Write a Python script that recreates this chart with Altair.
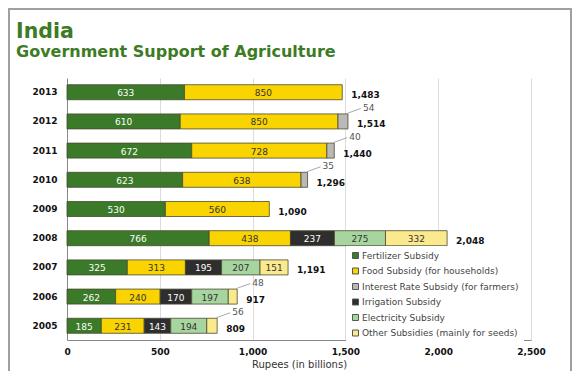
import altair as alt
import pandas as pd

title_text = "India"
subtitle_text = "Government Support of Agriculture"
years = ["2013", "2012", "2011", "2010", "2009", "2008", "2007", "2006", "2005"]
categories = [
    "Fertilizer Subsidy",
    "Food Subsidy (for households)",
    "Interest Rate Subsidy (for farmers)",
    "Irrigation Subsidy",
    "Electricity Subsidy",
    "Other Subsidies (mainly for seeds)",
]
fertilizer = [633, 610, 672, 623, 530, 766, 325, 262, 185]
food = [850, 850, 728, 638, 560, 438, 313, 240, 231]
interest = [0, 54, 40, 35, 0, 0, 0, 0, 0]
irrigation = [0, 0, 0, 0, 0, 237, 195, 170, 143]
electricity = [0, 0, 0, 0, 0, 275, 207, 197, 194]
other = [0, 0, 0, 0, 0, 332, 151, 48, 56]
totals = [1483, 1514, 1440, 1296, 1090, 2048, 1191, 917, 809]

colors = ["#3b7a29", "#fad400", "#b9b9b9", "#2e2e2e", "#a6d59f", "#fbe98e"]
text_colors = ["white", "#333333", "#333333", "white", "#333333", "#333333"]
x_ticks = [0, 500, 1000, 1500, 2000, 2500]

series = [fertilizer, food, interest, irrigation, electricity, other]
rows = []
for ci, (cat, vals) in enumerate(zip(categories, series)):
    for yi, (yr, v) in enumerate(zip(years, vals)):
        if v > 0:
            rows.append({"year": yr, "cat": cat, "order": ci, "value": v,
                         "tcolor": text_colors[ci]})
df = pd.DataFrame(rows)
tot_df = pd.DataFrame({"year": years, "total": totals})
one = pd.DataFrame({"t": [title_text], "s": [subtitle_text]})

FONT = "DejaVu Sans"
GREEN = "#3d7b25"
yenc = alt.Y("year:N", sort=years, title=None,
             scale=alt.Scale(paddingInner=0.486, paddingOuter=0.23),
             axis=alt.Axis(ticks=False, labelPadding=10, labelFontWeight="bold",
                           labelFontSize=9, labelColor="#111", domainColor="#888",
                           labelFont=FONT))

base = alt.Chart(df).transform_window(
    cum="sum(value)", groupby=["year"], sort=[alt.SortField("order")], frame=[None, 0]
).transform_calculate(
    start="datum.cum - datum.value", mid="datum.cum - datum.value/2"
)

bars = base.mark_bar(stroke="#4a4a30", strokeWidth=0.8).encode(
    x=alt.X("start:Q", scale=alt.Scale(domain=[0, 2500], nice=False),
            title="Rupees (in billions)",
            axis=alt.Axis(values=x_ticks, format=",.0f", ticks=False, labelPadding=7,
                          labelFlush=False, labelOverlap=False,
                          labelFontWeight="bold", labelFontSize=9, labelColor="#111",
                          labelFont=FONT, gridColor="#dcdcdc", domainColor="#888",
                          titleFont=FONT, titleFontSize=10, titleFontWeight="normal",
                          titleColor="#333", titlePadding=3)),
    x2="cum:Q",
    y=yenc,
    color=alt.Color("cat:N", sort=categories,
                    scale=alt.Scale(domain=categories, range=colors),
                    legend=alt.Legend(title=None, orient="none", legendX=279, legendY=168,
                                      fillColor="white", padding=5, symbolType="square",
                                      symbolSize=36, symbolStrokeColor="#555",
                                      symbolStrokeWidth=1, labelFont=FONT,
                                      labelFontSize=9, labelColor="#444",
                                      rowPadding=4.5, labelOffset=2)),
)

inside = base.transform_filter("datum.value >= 100").mark_text(
    font=FONT, fontSize=9, baseline="middle", dy=1
).encode(
    x="mid:Q", y=alt.Y("year:N", sort=years),
    text=alt.Text("value:Q"),
    color=alt.Color("tcolor:N", scale=None),
)

small_txt = base.transform_filter("datum.value < 100").mark_text(
    font=FONT, fontSize=9, baseline="middle", align="left", dx=15, dy=-13.5,
    color="#555"
).encode(x="cum:Q", y=alt.Y("year:N", sort=years), text="value:Q")

leader = base.transform_filter("datum.value < 100").mark_rule(
    color="#aaaaaa", strokeWidth=1, xOffset=-1, x2Offset=13, yOffset=-8, y2Offset=-13
).encode(x="cum:Q", x2="cum:Q", y=alt.Y("year:N", sort=years), y2="year:N")

tot_txt = alt.Chart(tot_df).mark_text(
    font=FONT, fontSize=9, fontWeight="bold", align="left", baseline="middle",
    dx=9, dy=3, color="#111"
).encode(x="total:Q", y=alt.Y("year:N", sort=years), text=alt.Text("total:Q", format=","))

frame = alt.Chart(one).mark_rect(
    fill=None, stroke="#a0a0a0", strokeWidth=2
).encode(x=alt.value(-58), x2=alt.value(504), y=alt.value(-69), y2=alt.value(320))

title1 = alt.Chart(one).mark_text(
    font=FONT, fontSize=20.5, fontWeight="bold", color=GREEN, align="left",
    baseline="alphabetic"
).encode(x=alt.value(-51), y=alt.value(-40), text="t:N")

title2 = alt.Chart(one).mark_text(
    font=FONT, fontSize=16, fontWeight="bold", color=GREEN, align="left",
    baseline="alphabetic"
).encode(x=alt.value(-51), y=alt.value(-21), text="s:N")

chart = alt.layer(frame, title1, title2, bars, inside, leader, small_txt, tot_txt).properties(
    width=464, height=262,
    autosize=alt.AutoSizeParams(type="none"),
    padding={"left": 59, "top": 70, "right": 41, "bottom": 31},
).configure_view(stroke=None).configure_axisY(grid=False)

chart.save("out.html", embed_options={"renderer": "svg", "actions": False})
